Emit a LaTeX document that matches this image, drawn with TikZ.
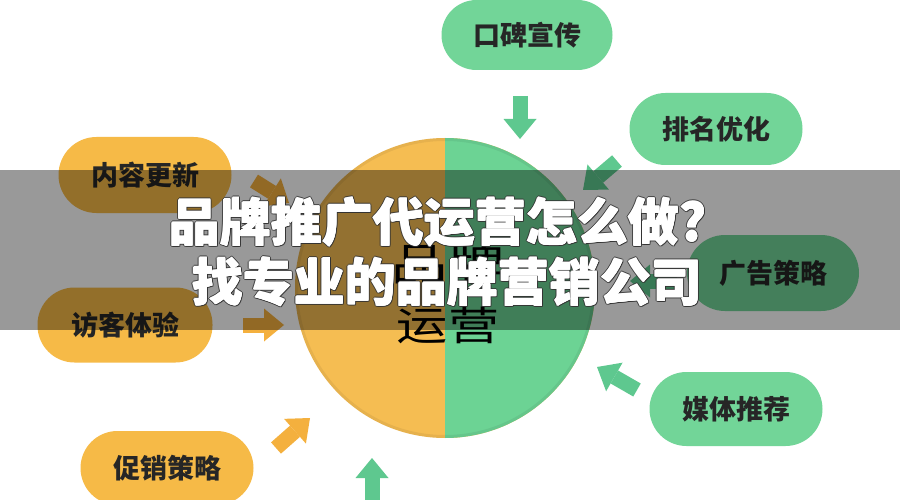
\documentclass[tikz,border=0pt]{standalone}
\usepackage{fontspec}
\usetikzlibrary{arrows.meta}
\newfontfamily\cjk{Noto Sans CJK SC}
\newfontfamily\cjkwide[FakeStretch=1.28]{Noto Sans CJK SC}
\definecolor{pillgreen}{HTML}{72D598}
\definecolor{pillorange}{HTML}{F6BA47}
\definecolor{circyellow}{HTML}{F5BD52}
\definecolor{circgreen}{HTML}{6CD394}
\definecolor{arrgreen}{HTML}{5EC88F}
\definecolor{arrorange}{HTML}{F4B03E}
\tikzset{
  pill/.style={minimum width=173pt, minimum height=74pt, rounded corners=37pt, inner sep=0pt,
    font=\cjk\bfseries\fontsize{27}{27}\selectfont, text=black!85},
  gpill/.style={pill, fill=pillgreen},
  opill/.style={pill, fill=pillorange},
  blockarrow/.style={line width=15pt, -{Triangle[width=33pt,length=20pt,line width=0pt]}},
  ctext/.style={inner sep=0pt, font=\cjkwide\fontsize{40}{40}\selectfont, text=black},
  titletext/.style={inner sep=0pt, anchor=west, font=\cjk\bfseries\fontsize{51}{51}\selectfont},
}
\newcommand{\titleline}[3]{%
  \foreach \dx/\dy in {-1.4/0,1.4/0,0/-1.4,0/1.4,-1/-1,1/1,-1/1,1/-1}{
    \node[titletext, text=black!80, opacity=0.8] at ([shift={(\dx,\dy)}]#2) {#3};
  }
  \foreach \dx/\dy in {-0.6/0,0.6/0,0/-0.6,0/0.6}{
    \node[titletext, text=white] at ([shift={(\dx,\dy)}]#2) {#3};
  }
  \node[titletext, text=white] (#1) at (#2) {#3};
}
\begin{document}
\begin{tikzpicture}[x=1pt,y=-1pt]
\useasboundingbox (0,0) rectangle (900,500);
\fill[white] (0,0) rectangle (900,500);
% pills
\node[gpill, minimum width=171pt, minimum height=70pt, rounded corners=35pt] (p1) at (527,35) {口碑宣传};
\node[gpill, minimum height=72pt, rounded corners=36pt] (p2) at (716,129) {排名优化};
\node[gpill, minimum width=172pt, minimum height=76pt, rounded corners=38pt] (p3) at (773,273) {广告策略};
\node[gpill] (p4) at (736,409) {媒体推荐};
\node[opill, minimum height=76pt, rounded corners=38pt] (p5) at (145,175) {内容更新};
\node[opill, minimum width=175pt, minimum height=75pt] (p6) at (125,325) {访客体验};
\node[opill] (p7) at (167,468) {促销策略};
% circle
\coordinate (c) at (445,288);
\fill[circyellow] (c) circle (150);
\begin{scope}
  \clip (c) circle (150);
  \fill[circgreen] (445,130) rectangle (600,450);
\end{scope}
\draw[black, opacity=0.06, line width=3pt] (c) circle (148.5);
\node[ctext, font=\cjkwide\fontsize{44}{44}\selectfont] (ct1) at (448,264) {品牌};
\node[ctext] (ct2) at (448,325) {运营};
% arrows
\coordinate (a1s) at (520,96);  \coordinate (a1e) at (520,139);
\coordinate (a2s) at (617,161); \coordinate (a2e) at (583,190);
\coordinate (a3s) at (677,281); \coordinate (a3e) at (630,281);
\coordinate (a4s) at (637,390); \coordinate (a4e) at (597,367);
\coordinate (a5s) at (372,502); \coordinate (a5e) at (372,458);
\coordinate (a6s) at (276,448); \coordinate (a6e) at (310,418);
\coordinate (a7s) at (243,325); \coordinate (a7e) at (284,325);
\coordinate (a8s) at (254,181); \coordinate (a8e) at (289,203);
\draw[blockarrow, arrgreen] (a1s) -- (a1e);
\draw[blockarrow, arrgreen] (a2s) -- (a2e);
\draw[blockarrow, arrgreen] (a3s) -- (a3e);
\draw[blockarrow, arrgreen] (a4s) -- (a4e);
\draw[blockarrow, arrgreen] (a5s) -- (a5e);
\draw[blockarrow, arrorange] (a6s) -- (a6e);
\draw[blockarrow, arrorange] (a7s) -- (a7e);
\draw[blockarrow, arrorange] (a8s) -- (a8e);
% band
\fill[black, opacity=0.4] (0,170) rectangle (900,330);
% title
\coordinate (t1pos) at (169,222);
\coordinate (t2pos) at (192,282);
\titleline{t1}{t1pos}{品牌推广代运营怎么做?}
\titleline{t2}{t2pos}{找专业的品牌营销公司}
\end{tikzpicture}
\end{document}
